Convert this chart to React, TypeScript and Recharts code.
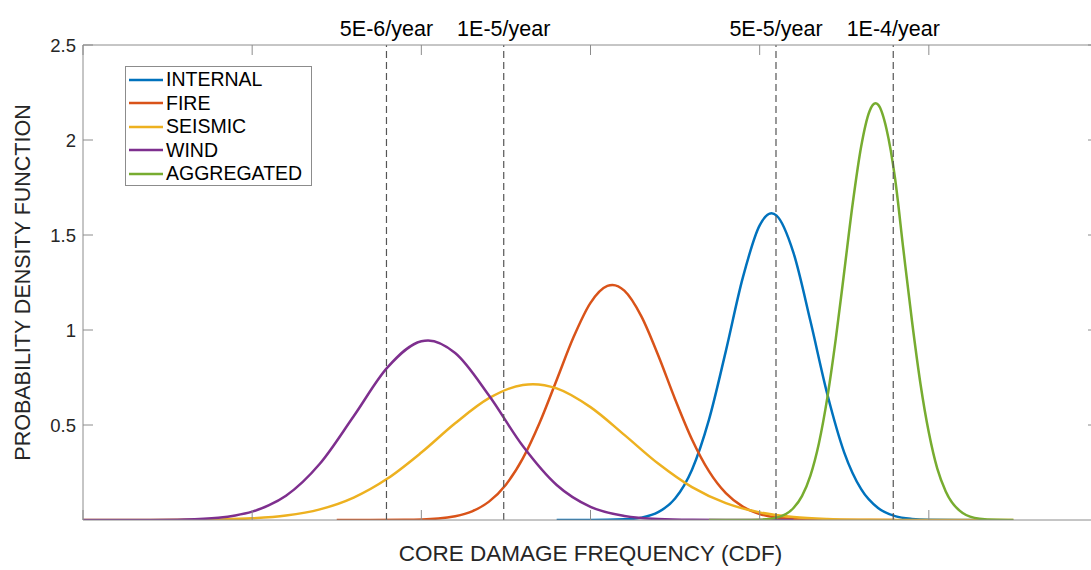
import React from 'react';
import { LineChart, Line, XAxis, YAxis, ReferenceLine, Legend, Label } from 'recharts';

// x values are ln(CDF); y values are PDF
const X_TICKS = [-14, -13, -12, -11, -10, -9, -8];
const Y_TICKS = [0.5, 1, 1.5, 2, 2.5];

const INTERNAL_X = [-11.2, -11.0, -10.8, -10.7, -10.6, -10.5, -10.4, -10.3, -10.2, -10.1, -10.0, -9.93, -9.9, -9.8, -9.7, -9.6, -9.5, -9.4, -9.3, -9.2, -9.1, -9.0, -8.8, -8.7];
const INTERNAL_Y = [0, 0.0001, 0.0033, 0.0126, 0.041, 0.113, 0.265, 0.527, 0.889, 1.274, 1.551, 1.614, 1.602, 1.406, 1.047, 0.662, 0.355, 0.162, 0.0627, 0.0206, 0.0058, 0.0014, 0, 0];

const FIRE_X = [-12.5, -12.3, -12.1, -11.9, -11.8, -11.7, -11.6, -11.5, -11.4, -11.3, -11.2, -11.1, -11.0, -10.9, -10.87, -10.8, -10.7, -10.6, -10.5, -10.4, -10.3, -10.2, -10.1, -10.0, -9.9, -9.7, -9.5, -9.2];
const FIRE_Y = [0, 0.0001, 0.0009, 0.0077, 0.0197, 0.0458, 0.0968, 0.186, 0.324, 0.513, 0.737, 0.963, 1.143, 1.232, 1.237, 1.207, 1.073, 0.867, 0.636, 0.424, 0.257, 0.141, 0.0705, 0.0319, 0.0132, 0.0017, 0.0001, 0];

const SEISMIC_X = [-14, -13.8, -13.6, -13.4, -13.2, -13, -12.8, -12.6, -12.4, -12.2, -12, -11.8, -11.6, -11.4, -11.34, -11.2, -11, -10.8, -10.6, -10.4, -10.2, -10, -9.8, -9.6, -9.4, -9.2, -9, -8.8, -8.5];
const SEISMIC_Y = [0, 0, 0.0002, 0.0008, 0.0028, 0.0086, 0.0233, 0.0559, 0.118, 0.218, 0.355, 0.509, 0.641, 0.711, 0.715, 0.693, 0.594, 0.448, 0.297, 0.173, 0.0887, 0.04, 0.0159, 0.0055, 0.0017, 0.0005, 0.0001, 0, 0];

const WIND_X = [-14, -13.8, -13.6, -13.4, -13.2, -13.1, -13, -12.9, -12.8, -12.6, -12.4, -12.2, -12, -11.96, -11.8, -11.6, -11.4, -11.2, -11, -10.8, -10.6, -10.4, -10.2, -10, -9.8];
const WIND_Y = [0, 0.0001, 0.0005, 0.0026, 0.012, 0.024, 0.044, 0.078, 0.128, 0.296, 0.546, 0.803, 0.941, 0.945, 0.879, 0.655, 0.389, 0.184, 0.069, 0.021, 0.005, 0.001, 0.0002, 0, 0];

const AGG_X = [-10.3, -10.2, -10.1, -10, -9.9, -9.8, -9.75, -9.7, -9.65, -9.6, -9.55, -9.5, -9.45, -9.4, -9.35, -9.315, -9.3, -9.25, -9.2, -9.15, -9.1, -9.05, -9, -8.95, -8.9, -8.8, -8.7, -8.6, -8.5];
const AGG_Y = [0, 0, 0.0002, 0.0018, 0.0125, 0.063, 0.126, 0.234, 0.403, 0.644, 0.953, 1.308, 1.666, 1.966, 2.153, 2.193, 2.186, 2.057, 1.8, 1.42, 1.05, 0.72, 0.46, 0.27, 0.15, 0.037, 0.007, 0.001, 0];

const REF_CDF = [5e-6, 1e-5, 5e-5, 1e-4];
const REF_LABELS = ['5E-6/year', '1E-5/year', '5E-5/year', '1E-4/year'];

const SERIES_NAMES = ['INTERNAL', 'FIRE', 'SEISMIC', 'WIND', 'AGGREGATED'];
const SERIES_COLORS = ['#0072BD', '#D95319', '#EDB120', '#7E2F8E', '#77AC30'];
const SERIES_X = [INTERNAL_X, FIRE_X, SEISMIC_X, WIND_X, AGG_X];
const SERIES_Y = [INTERNAL_Y, FIRE_Y, SEISMIC_Y, WIND_Y, AGG_Y];

const FONT = '"Liberation Sans", Arial, Helvetica, sans-serif';
const AXIS_COLOR = '#8c8c8c';
const TEXT_COLOR = '#262626';

const toPoints = (xs: number[], ys: number[]) => xs.map((x, i) => ({ x, y: ys[i] }));

const EmptyTick = () => <g />;

const renderLegend = (props: any) => {
  const payload = [...(props.payload || [])].sort(
    (a: any, b: any) => SERIES_NAMES.indexOf(a.value) - SERIES_NAMES.indexOf(b.value)
  );
  return (
    <div
      style={{
        border: '1px solid #8c8c8c',
        background: '#fff',
        boxSizing: 'border-box',
        width: 187,
        height: 120,
        padding: '1px 0 0 3px',
        fontFamily: FONT,
      }}
    >
      {payload.map((e: any) => (
        <div key={e.value} style={{ display: 'flex', alignItems: 'center', height: 23.5 }}>
          <svg width={34} height={4} style={{ display: 'block' }}>
            <line x1={0} y1={2} x2={34} y2={2} stroke={e.color} strokeWidth={2.5} />
          </svg>
          <span style={{ marginLeft: 3, fontSize: 19.5, lineHeight: 1, color: '#000' }}>{e.value}</span>
        </div>
      ))}
    </div>
  );
};

const XTitle = (props: any) => {
  const vb = props.viewBox;
  return (
    <text
      x={vb.x + vb.width / 2}
      y={vb.y + 33}
      textAnchor="middle"
      dominantBaseline="central"
      fontSize={22.5}
      fill={TEXT_COLOR}
      fontFamily={FONT}
    >
      CORE DAMAGE FREQUENCY (CDF)
    </text>
  );
};

const YTitle = (props: any) => {
  const vb = props.viewBox;
  const cx = vb.x + 23;
  const cy = vb.y + vb.height / 2;
  return (
    <text
      x={cx}
      y={cy}
      transform={`rotate(-90 ${cx} ${cy})`}
      textAnchor="middle"
      dominantBaseline="central"
      fontSize={21.5}
      fill={TEXT_COLOR}
      fontFamily={FONT}
    >
      PROBABILITY DENSITY FUNCTION
    </text>
  );
};

const tickAxisProps = {
  type: 'number' as const,
  interval: 0 as const,
  allowDataOverflow: true,
  tick: <EmptyTick />,
  mirror: true,
  tickSize: 10,
  stroke: AXIS_COLOR,
  tickLine: { stroke: AXIS_COLOR },
};

export default function App() {
  return (
    <div
      style={{
        position: 'absolute',
        left: 0,
        top: 0,
        width: 1091,
        height: 570,
        overflow: 'hidden',
        background: '#fff',
        fontFamily: FONT,
      }}
    >
      <LineChart width={1120} height={570} margin={{ top: 45, right: 22, bottom: 0, left: 0 }}>
        <XAxis
          dataKey="x"
          type="number"
          domain={[-14, -8]}
          ticks={X_TICKS}
          interval={0}
          allowDataOverflow
          height={50}
          tick={false}
          tickLine={false}
          stroke={AXIS_COLOR}
          axisLine={{ stroke: AXIS_COLOR }}
        >
          <Label content={<XTitle />} />
        </XAxis>
        <XAxis
          {...tickAxisProps}
          xAxisId="bottomTicks"
          orientation="bottom"
          dataKey="x"
          domain={[-14, -8]}
          ticks={X_TICKS}
          height={10}
          axisLine={false}
        />
        <XAxis
          {...tickAxisProps}
          xAxisId="top"
          orientation="top"
          dataKey="x"
          domain={[-14, -8]}
          ticks={X_TICKS}
          height={10}
          axisLine={{ stroke: AXIS_COLOR }}
        />
        <YAxis
          type="number"
          domain={[0, 2.5]}
          ticks={Y_TICKS}
          interval={0}
          allowDataOverflow
          width={83}
          tickSize={0}
          tickMargin={7}
          tickLine={false}
          tick={{ fontSize: 18.5, fill: TEXT_COLOR, fontFamily: FONT }}
          stroke={AXIS_COLOR}
          axisLine={{ stroke: AXIS_COLOR }}
        >
          <Label content={<YTitle />} />
        </YAxis>
        <YAxis
          {...tickAxisProps}
          yAxisId="leftTicks"
          orientation="left"
          domain={[0, 2.5]}
          ticks={Y_TICKS}
          width={10}
          axisLine={false}
        />
        <YAxis
          {...tickAxisProps}
          yAxisId="right"
          orientation="right"
          domain={[0, 2.5]}
          ticks={Y_TICKS}
          width={10}
          axisLine={{ stroke: AXIS_COLOR }}
        />
        {SERIES_NAMES.map((name, i) => (
          <Line
            key={name}
            name={name}
            data={toPoints(SERIES_X[i], SERIES_Y[i])}
            dataKey="y"
            type="monotone"
            stroke={SERIES_COLORS[i]}
            strokeWidth={2.5}
            dot={false}
            activeDot={false}
            isAnimationActive={false}
          />
        ))}
        {REF_CDF.map((v, i) => (
          <ReferenceLine
            key={REF_LABELS[i]}
            x={Math.log(v)}
            stroke="#555"
            strokeWidth={1.2}
            strokeDasharray="7 4"
            label={{
              value: REF_LABELS[i],
              position: 'top',
              offset: 9,
              fill: '#000',
              fontSize: 21.5,
              fontFamily: FONT,
            }}
          />
        ))}
        <Legend
          layout="vertical"
          align="center"
          verticalAlign="middle"
          wrapperStyle={{ left: 125, top: 66, width: 187, height: 120 }}
          content={renderLegend}
        />
      </LineChart>
    </div>
  );
}
